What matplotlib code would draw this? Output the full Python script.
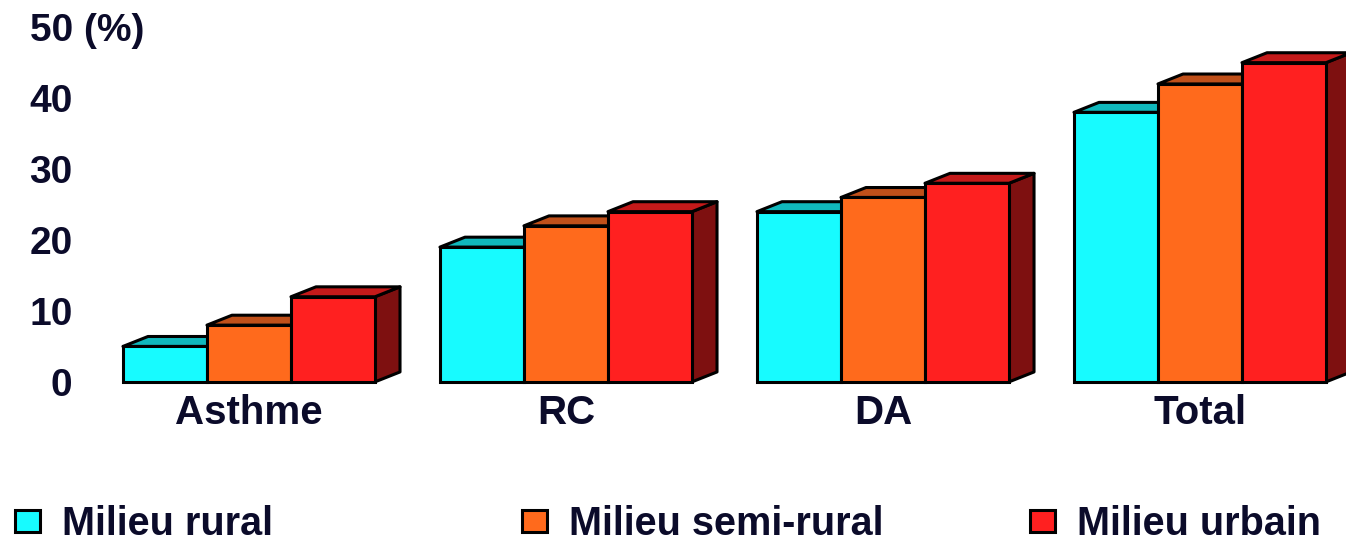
import matplotlib.pyplot as plt
from matplotlib.patches import Polygon, Patch
import numpy as np

plt.rcParams['font.family'] = ['Liberation Sans', 'DejaVu Sans']
plt.rcParams['font.weight'] = 'bold'

# données (%)
categories = ["Asthme", "RC", "DA", "Total"]
series = ["Milieu rural", "Milieu semi-rural", "Milieu urbain"]
rural = [5, 19, 24, 38]
semi_rural = [8, 22, 26, 42]
urbain = [12, 24, 28, 45]
valeurs = [rural, semi_rural, urbain]

# couleurs: face avant, dessus, côté
face = ["#17FBFF", "#FF6A1C", "#FF2020"]
dessus = ["#10B8BC", "#C0501A", "#C41A1A"]
cote = ["#0A8080", "#803010", "#7E1010"]
texte = "#0b0b2a"

fig = plt.figure(figsize=(13.46, 5.44), dpi=100)
ax = fig.add_axes([0.0672, 0.298, 0.9303, 0.652])

x = np.arange(len(categories))
largeur = 0.265
dx, dy = 0.079, 1.4   # profondeur de l'effet 3D

for j, vals in enumerate(valeurs):
    pos = x + (j - 1) * largeur
    z = 2 + j * 3
    for xi, h in zip(pos, vals):
        xr = xi + largeur / 2
        xl = xi - largeur / 2
        ax.add_patch(Polygon([(xr, 0), (xr + dx, dy), (xr + dx, h + dy), (xr, h)],
                             closed=True, facecolor=cote[j], edgecolor="black",
                             lw=2.2, zorder=z, clip_on=False, joinstyle="round"))
        ax.add_patch(Polygon([(xl, h), (xl + dx, h + dy), (xr + dx, h + dy), (xr, h)],
                             closed=True, facecolor=dessus[j], edgecolor="black",
                             lw=2.2, zorder=z + 1, clip_on=False, joinstyle="round"))
    ax.bar(pos, vals, largeur, color=face[j], edgecolor="black", lw=2.2,
           zorder=z + 2, clip_on=False)

ax.set_xlim(-0.5, 3.45)
ax.set_ylim(0, 50)
for s in ax.spines.values():
    s.set_visible(False)

ax.set_yticks([0, 10, 20, 30, 40])
ax.set_yticklabels(["0", "10", "20", "30", "40"])
ax.tick_params(axis="y", length=0, pad=13, labelsize=28, labelcolor=texte)
ax.text(-0.048, 49.4, "50 (%)", transform=ax.get_yaxis_transform(), ha="left",
        va="center", fontsize=28, color=texte, fontweight="bold")

ax.set_xticks(x)
ax.set_xticklabels(categories)
ax.tick_params(axis="x", length=0, pad=9, labelsize=29, labelcolor=texte)

# légende en bas
pos_legende = [0.0111, 0.3878, 0.7652]
for j, nom in enumerate(series):
    fig.legend(handles=[Patch(facecolor=face[j], edgecolor="black", lw=2.2, label=nom)],
               loc="lower left", bbox_to_anchor=(pos_legende[j], 0.002),
               frameon=False, fontsize=28.5, handlelength=0.63, handleheight=0.5,
               handletextpad=0.56, borderpad=0, borderaxespad=0, labelcolor=texte)

fig.savefig("out.png", dpi=100)
